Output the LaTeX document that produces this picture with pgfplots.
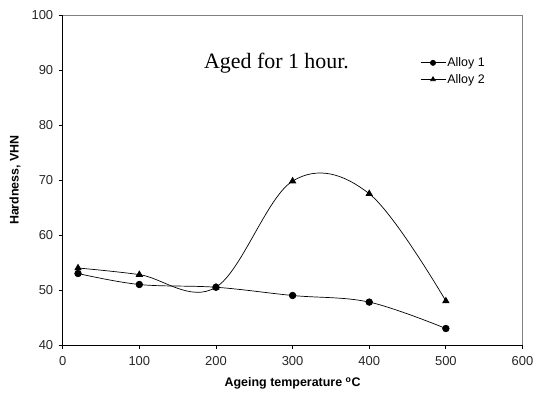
\documentclass[border=0pt]{standalone}
\usepackage{fontspec}
\setmainfont{Liberation Sans}
\newfontfamily\seriffont{Liberation Serif}
\usepackage{pgfplots}
\pgfplotsset{compat=1.18}
\begin{document}
\begin{tikzpicture}
\useasboundingbox (-62.7bp,-51bp) rectangle (470.3bp,345bp);
\begin{axis}[
  at={(0,0)}, anchor=south west,
  scale only axis,
  width=459.8bp, height=330bp,
  xmin=0, xmax=600, ymin=40, ymax=100,
  xtick={0,100,...,600}, ytick={40,50,...,100},
  axis lines=left,
  axis line style={-, black, line width=0.8bp},
  tick align=outside,
  major tick length=4bp,
  tick style={black, line width=0.8bp},
  /pgf/number format/assume math mode=true,
  tick label style={font=\fontsize{13}{15}\selectfont, text=black!85},
  xticklabel style={yshift=-4bp},
  yticklabel style={xshift=-2bp},
  label style={font=\bfseries\fontsize{12.5}{15}\selectfont},
  xlabel={Ageing temperature \textsuperscript{o}C},
  ylabel={Hardness, VHN},
  xlabel style={at={(axis description cs:0.5,-0.1264)}, anchor=base},
  ylabel style={at={(axis description cs:-0.096,0.5)}, anchor=base},
  legend style={at={(axis description cs:0.777,0.830)}, anchor=west,
    draw=none, fill=none, inner sep=0pt, row sep=3bp,
    font=\fontsize{12.5}{15}\selectfont,
    nodes={inner sep=1.5bp}},
  legend cell align=left,
  legend image code/.code={\draw[#1, mark repeat=2, mark phase=2, mark size=2.6bp] plot coordinates {(0bp,0bp) (12.5bp,0bp) (25bp,0bp)};},
  clip=false,
]
\addplot[black, line width=0.7bp, smooth, tension=0.6, mark=*, mark size=3.3bp, mark options={solid}]
  coordinates {(20,53) (100,51) (200,50.5) (300,49) (400,47.8) (500,43)};
\addlegendentry{Alloy 1}
\addplot[black, line width=0.7bp, smooth, tension=0.6, mark=triangle*, mark size=3.6bp, mark options={solid}]
  coordinates {(20,54) (100,52.8) (200,50.5) (300,69.8) (400,67.5) (500,48)};
\addlegendentry{Alloy 2}
\draw[gray, line width=0.8bp] (rel axis cs:0,1) -- (rel axis cs:1,1) -- (rel axis cs:1,0);
\node[anchor=base, font=\seriffont\fontsize{22}{26}\selectfont, inner sep=0pt] at (axis cs:279,90.3) {Aged for 1 hour.};
\end{axis}
\end{tikzpicture}
\end{document}
